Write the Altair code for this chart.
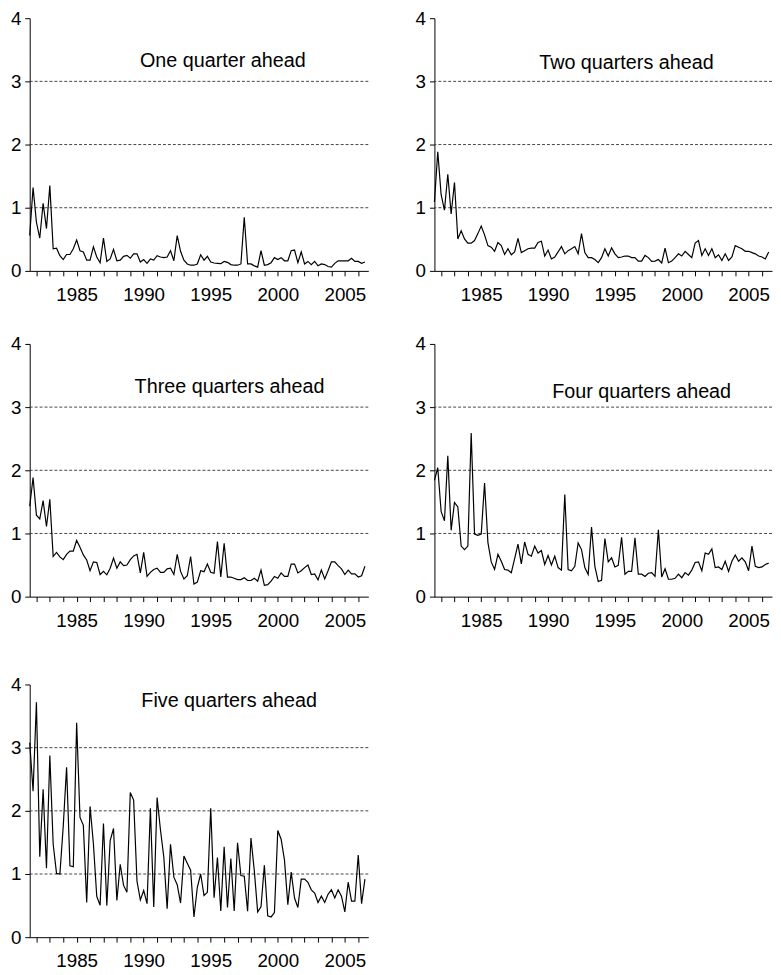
import altair as alt
import pandas as pd

START = 1981.5  # first quarter shown (1981Q3)

one_q = [0.56, 1.32, 0.77, 0.52, 1.07, 0.67, 1.35, 0.35, 0.36, 0.24,
         0.18, 0.26, 0.26, 0.35, 0.49, 0.32, 0.30, 0.17, 0.17, 0.38,
         0.22, 0.13, 0.52, 0.15, 0.19, 0.34, 0.16, 0.17, 0.23, 0.245,
         0.20, 0.27, 0.27, 0.14, 0.18, 0.12, 0.19, 0.17, 0.24, 0.22,
         0.21, 0.22, 0.32, 0.16, 0.56, 0.31, 0.17, 0.11, 0.09, 0.09,
         0.11, 0.255, 0.17, 0.23, 0.14, 0.125, 0.12, 0.115, 0.15, 0.135,
         0.10, 0.09, 0.09, 0.11, 0.85, 0.11, 0.11, 0.08, 0.06, 0.32,
         0.09, 0.10, 0.13, 0.21, 0.18, 0.21, 0.16, 0.16, 0.32, 0.33,
         0.13, 0.30, 0.11, 0.15, 0.10, 0.15, 0.08, 0.11, 0.10, 0.07,
         0.06, 0.12, 0.16, 0.16, 0.16, 0.16, 0.20, 0.15, 0.15, 0.12,
         0.14]

two_q = [1.09, 1.885, 1.21, 0.96, 1.53, 0.90, 1.40, 0.505, 0.635, 0.505,
         0.44, 0.44, 0.48, 0.59, 0.71, 0.57, 0.40, 0.375, 0.31, 0.45,
         0.40, 0.26, 0.35, 0.255, 0.30, 0.515, 0.29, 0.32, 0.35, 0.36,
         0.36, 0.45, 0.47, 0.235, 0.33, 0.19, 0.22, 0.30, 0.385, 0.27,
         0.32, 0.35, 0.385, 0.27, 0.59, 0.29, 0.21, 0.21, 0.18, 0.13,
         0.21, 0.35, 0.235, 0.365, 0.27, 0.21, 0.22, 0.235, 0.235, 0.21,
         0.21, 0.155, 0.155, 0.245, 0.21, 0.15, 0.155, 0.18, 0.125, 0.36,
         0.13, 0.155, 0.21, 0.27, 0.235, 0.31, 0.26, 0.21, 0.44, 0.48,
         0.245, 0.35, 0.245, 0.35, 0.21, 0.255, 0.165, 0.27, 0.165, 0.22,
         0.40, 0.375, 0.35, 0.31, 0.31, 0.29, 0.27, 0.235, 0.22, 0.19,
         0.30]

three_q = [1.43, 1.885, 1.29, 1.23, 1.52, 1.11, 1.54, 0.635, 0.70, 0.63,
           0.585, 0.67, 0.72, 0.72, 0.89, 0.78, 0.66, 0.58, 0.41, 0.55,
           0.54, 0.35, 0.40, 0.345, 0.45, 0.61, 0.45, 0.55, 0.49, 0.50,
           0.585, 0.645, 0.67, 0.375, 0.70, 0.32, 0.385, 0.43, 0.45, 0.385,
           0.385, 0.44, 0.45, 0.35, 0.67, 0.40, 0.28, 0.33, 0.635, 0.20,
           0.23, 0.41, 0.395, 0.515, 0.385, 0.37, 0.87, 0.31, 0.845, 0.31,
           0.31, 0.29, 0.27, 0.27, 0.30, 0.255, 0.255, 0.29, 0.245, 0.42,
           0.18, 0.19, 0.245, 0.32, 0.29, 0.375, 0.32, 0.32, 0.515, 0.515,
           0.375, 0.41, 0.46, 0.50, 0.35, 0.36, 0.265, 0.42, 0.28, 0.41,
           0.55, 0.55, 0.49, 0.44, 0.35, 0.42, 0.36, 0.36, 0.31, 0.33,
           0.48]

four_q = [1.84, 2.04, 1.35, 1.20, 2.23, 1.05, 1.49, 1.42, 0.80, 0.745,
          0.80, 2.59, 0.99, 0.97, 0.99, 1.80, 0.86, 0.55, 0.43, 0.67,
          0.56, 0.43, 0.42, 0.38, 0.60, 0.83, 0.52, 0.865, 0.67, 0.64,
          0.80, 0.69, 0.73, 0.51, 0.65, 0.50, 0.64, 0.46, 0.42, 1.615,
          0.43, 0.41, 0.48, 0.85, 0.745, 0.46, 0.35, 1.10, 0.48, 0.24,
          0.26, 0.92, 0.55, 0.615, 0.47, 0.495, 0.94, 0.355, 0.40, 0.40,
          0.93, 0.355, 0.355, 0.32, 0.37, 0.38, 0.32, 1.06, 0.31, 0.44,
          0.275, 0.275, 0.29, 0.355, 0.30, 0.38, 0.34, 0.42, 0.54, 0.55,
          0.41, 0.69, 0.67, 0.755, 0.46, 0.47, 0.43, 0.56, 0.40, 0.56,
          0.66, 0.56, 0.615, 0.55, 0.41, 0.80, 0.48, 0.46, 0.47, 0.51,
          0.53]

five_q = [3.08, 2.31, 3.72, 1.275, 2.34, 1.09, 2.875, 1.47, 1.01, 1.00,
          1.755, 2.69, 1.13, 1.115, 3.395, 1.895, 1.77, 0.55, 2.07, 1.48,
          0.645, 0.505, 1.80, 0.50, 1.53, 1.72, 0.58, 1.155, 0.82, 0.71,
          2.29, 2.17, 0.885, 0.59, 0.74, 0.53, 2.04, 0.48, 2.21, 1.70,
          1.27, 0.45, 1.47, 0.95, 0.83, 0.54, 1.285, 1.17, 1.06, 0.32,
          0.79, 1.00, 0.66, 0.71, 2.04, 0.625, 1.26, 0.415, 1.43, 0.47,
          1.245, 0.415, 1.495, 0.975, 0.965, 0.41, 1.57, 1.05, 0.40, 0.48,
          1.14, 0.34, 0.32, 0.39, 1.69, 1.55, 1.22, 0.515, 1.03, 0.62,
          0.47, 0.92, 0.92, 0.87, 0.75, 0.70, 0.55, 0.65, 0.55, 0.68,
          0.75, 0.62, 0.75, 0.65, 0.40, 0.87, 0.57, 0.57, 1.30, 0.53,
          0.92]

titles = ["One quarter ahead", "Two quarters ahead", "Three quarters ahead",
          "Four quarters ahead", "Five quarters ahead"]
grid_levels = [1, 2, 3]
y_ticks = [0, 1, 2, 3, 4]
x_ticks = list(range(1982, 2007))

# annotation anchor (data coords) for each panel title
title_pos = [(1995.9, 3.22), (1995.86, 3.19), (1996.4, 3.22), (1997.0, 3.15), (1996.37, 3.65)]

FONT = "Liberation Sans"
XDOM = [1981.5, 2006.75]

XS = alt.Scale(domain=XDOM, nice=False, zero=False)
YS = alt.Scale(domain=[0, 4], nice=False)
XAXIS = alt.Axis(values=x_ticks, labelExpr="datum.value % 5 == 0 ? '' + datum.value : ''",
                 tickSize=5, labelPadding=10, labelFlush=False, labelOverlap=False)
YAXIS = alt.Axis(values=y_ticks, format="d", tickSize=5, labelPadding=4)


def panel(vals, title, pos, w):
    df = pd.DataFrame({"t": [START + 0.25 * i for i in range(len(vals))], "v": vals})
    line = alt.Chart(df).mark_line(color="black", strokeWidth=1.2).encode(
        x=alt.X("t:Q", scale=XS, axis=XAXIS, title=None),
        y=alt.Y("v:Q", scale=YS, axis=YAXIS, title=None),
    )
    grid = alt.Chart(pd.DataFrame({"g": grid_levels})).mark_rule(
        color="#444444", strokeDash=[3, 2], strokeWidth=1
    ).encode(y=alt.Y("g:Q", scale=YS, axis=YAXIS, title=None))
    txt = alt.Chart(pd.DataFrame({"x": [pos[0]], "y": [pos[1]], "s": [title]})).mark_text(
        font=FONT, fontSize=20, color="black", align="center", baseline="alphabetic"
    ).encode(x=alt.X("x:Q", scale=XS, axis=XAXIS, title=None),
             y=alt.Y("y:Q", scale=YS, axis=YAXIS, title=None), text="s:N")
    return alt.layer(grid, line, txt).properties(width=w, height=256)


p1 = panel(one_q, titles[0], title_pos[0], 343)
p2 = panel(two_q, titles[1], title_pos[1], 342)
p3 = panel(three_q, titles[2], title_pos[2], 343)
p4 = panel(four_q, titles[3], title_pos[3], 342)
p5 = panel(five_q, titles[4], title_pos[4], 343)

row1 = alt.hconcat(p1, p2, spacing=46)
row2 = alt.hconcat(p3, p4, spacing=46)
top = alt.vconcat(row1, row2, spacing=31)
chart = alt.vconcat(top, p5, spacing=46).properties(
    padding={"left": 2, "top": -5, "right": 0, "bottom": 0}
).configure_view(stroke=None).configure_axis(
    domainColor="black", tickColor="black", labelColor="black", labelFont=FONT,
    labelFontSize=19, grid=False, domainWidth=1, tickWidth=1
)

chart.save("out.html", embed_options={"renderer": "svg", "actions": False})
